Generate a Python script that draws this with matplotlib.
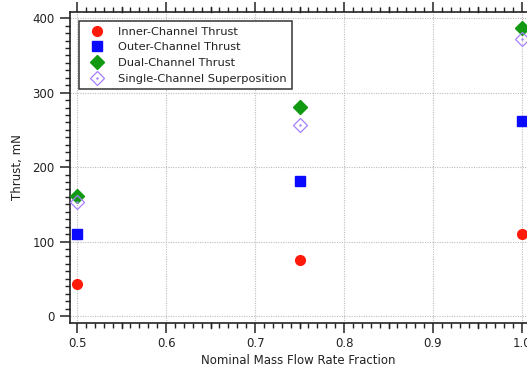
import matplotlib
matplotlib.use("Agg")
import matplotlib.pyplot as plt
from matplotlib.ticker import MultipleLocator
from matplotlib.legend_handler import HandlerTuple

# Thrust vs. nominal mass flow rate fraction
flow_fraction = [0.5, 0.75, 1.0]
inner_thrust = [43, 75, 110]
outer_thrust = [110, 181, 262]
dual_thrust = [161, 281, 387]
superposition = [153, 256, 372]

x_ticks = [0.5, 0.6, 0.7, 0.8, 0.9, 1.0]
x_tick_labels = ["0.5", "0.6", "0.7", "0.8", "0.9", "1.0"]
y_ticks = [0, 100, 200, 300, 400]
x_mid_ticks = [0.55, 0.65, 0.75, 0.85, 0.95]

plt.rcParams["font.family"] = "DejaVu Sans"
plt.rcParams["font.size"] = 8.5

ink = "#222222"
fig = plt.figure(figsize=(5.27, 3.73), dpi=100)
ax = fig.add_axes([0.1328, 0.134, 0.8672, 0.834])

h_inner, = ax.plot(flow_fraction, inner_thrust, "o", color="#ff1a0a", ms=7,
                   mec="#ff1a0a", zorder=3)
h_outer, = ax.plot(flow_fraction, outer_thrust, "s", color="#0a0aff", ms=7,
                   mec="#0a0aff", zorder=3)
h_dual, = ax.plot(flow_fraction, dual_thrust, "D", color="#119911", ms=7.5,
                  mec="#119911", zorder=3)
h_sup, = ax.plot(flow_fraction, superposition, "D", mfc="none", mec="#a580ff",
                 mew=0.9, ms=7.5, zorder=4)
h_dot, = ax.plot(flow_fraction, superposition, ".", color="#a580ff", ms=1.5, zorder=4)

ax.set_xlim(0.492, 1.0056)
ax.set_ylim(-9.4, 408.5)

ax.set_xticks(x_ticks)
ax.set_xticklabels(x_tick_labels)
ax.set_yticks(y_ticks)
ax.xaxis.set_minor_locator(MultipleLocator(0.01))
ax.yaxis.set_minor_locator(MultipleLocator(10))

ax.spines["right"].set_visible(False)
for s in ("left", "bottom", "top"):
    ax.spines[s].set_linewidth(1.2)
    ax.spines[s].set_color(ink)

ax.tick_params(axis="x", which="both", direction="out", top=True, bottom=True,
               labeltop=False, color=ink)
ax.tick_params(axis="y", which="both", direction="out", left=True, right=False,
               color=ink)
ax.tick_params(which="major", length=7, width=1.1, labelcolor=ink)
ax.tick_params(which="minor", length=3.5, width=1.0)
ax.tick_params(axis="x", which="major", pad=3)
ax.tick_params(axis="y", which="major", pad=4)

# medium-length ticks at the half intervals, top and bottom
xt = ax.get_xaxis_transform()
for xm in x_mid_ticks:
    ax.plot([xm, xm], [0.0, -0.017], transform=xt, color=ink, lw=1.0, clip_on=False)
    ax.plot([xm, xm], [1.0, 1.017], transform=xt, color=ink, lw=1.0, clip_on=False)

ax.grid(True, which="major", color="#bdbdbd", linestyle=(0, (1, 1.2)), linewidth=0.8)
ax.set_axisbelow(True)

ax.set_xlabel("Nominal Mass Flow Rate Fraction", labelpad=3, color=ink)
ax.set_ylabel("Thrust, mN", labelpad=6, color=ink)

leg = ax.legend([h_inner, h_outer, h_dual, (h_sup, h_dot)],
                ["Inner-Channel Thrust", "Outer-Channel Thrust",
                 "Dual-Channel Thrust", "Single-Channel Superposition"],
                handler_map={tuple: HandlerTuple(ndivide=1, pad=0)},
                loc="upper left", bbox_to_anchor=(0.0197, 0.971), frameon=True,
                fancybox=False, edgecolor="#444444", framealpha=1, fontsize=8.2,
                borderpad=0.5, labelspacing=0.5, handletextpad=0.7,
                handlelength=2.2, borderaxespad=0)
leg.get_frame().set_linewidth(1.2)
for t in leg.get_texts():
    t.set_color(ink)

fig.savefig("out.png", dpi=100)
